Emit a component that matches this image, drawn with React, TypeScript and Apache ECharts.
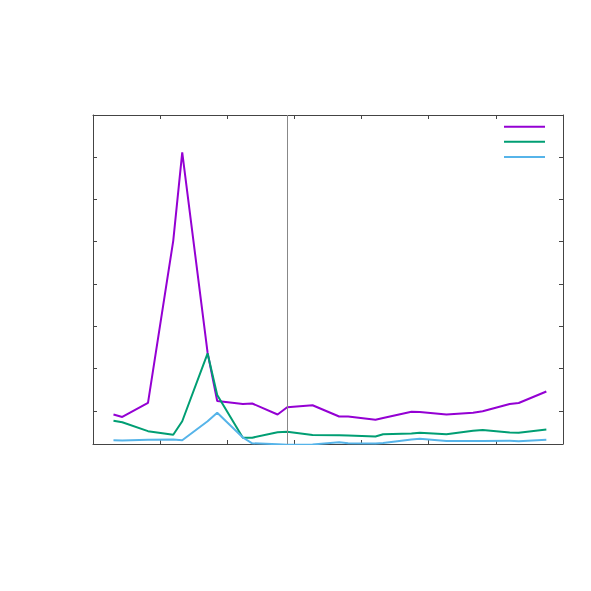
import React, { useEffect, useRef } from "react";
import * as echarts from "echarts";

// x positions (axis units, ticks at 0..7)
const xValues = [
  0.305, 0.436, 0.819, 1.195, 1.329, 1.707, 1.85, 2.232, 2.371, 2.749, 2.892, 3.27,
  3.666, 3.8, 4.207, 4.321, 4.743, 4.867, 5.264, 5.66, 5.804, 6.206, 6.34, 6.752,
];

const purpleValues = [
  0.697, 0.638, 0.969, 4.799, 6.887, 2.151, 1.017, 0.946, 0.957, 0.697, 0.868, 0.915,
  0.65, 0.65, 0.574, 0.615, 0.761, 0.757, 0.697, 0.738, 0.773, 0.946, 0.969, 1.241,
];

const greenValues = [
  0.551, 0.515, 0.303, 0.22, 0.537, 2.139, 1.158, 0.146, 0.149, 0.277, 0.291, 0.213,
  0.206, 0.201, 0.177, 0.232, 0.248, 0.265, 0.229, 0.312, 0.331, 0.272, 0.267, 0.34,
];

const blueValues = [
  0.09, 0.085, 0.099, 0.106, 0.087, 0.537, 0.738, 0.154, 0.017, -0.005, -0.02, -0.01,
  0.04, 0.017, 0.012, 0.024, 0.109, 0.123, 0.071, 0.071, 0.071, 0.076, 0.064, 0.102,
];

const yTickValues = [0.78, 1.78, 2.78, 3.78, 4.78, 5.78, 6.78];
const markerX = 2.892;

const seriesNames = ["a", "b", "c"];
const seriesColors = ["#9400d3", "#009e73", "#56b4e9"];

export default function App() {
  const ref = useRef<HTMLDivElement>(null);

  useEffect(() => {
    if (!ref.current) return;
    const chart = echarts.init(ref.current, undefined, { renderer: "svg" });
    const frameColor = "#444444";
    const xAxisBase = {
      type: "value" as const,
      min: 0,
      max: 7,
      interval: 1,
      axisLine: { show: true, onZero: false, lineStyle: { color: frameColor, width: 1 } },
      axisTick: { show: true, inside: true, length: 4, lineStyle: { color: frameColor } },
      axisLabel: { show: false },
      splitLine: { show: false },
    };
    const yAxisBase = {
      type: "value" as const,
      min: 0,
      max: 7.77,
      axisLine: { show: true, onZero: false, lineStyle: { color: frameColor, width: 1 } },
      axisTick: {
        show: true,
        inside: true,
        length: 4,
        customValues: yTickValues,
        lineStyle: { color: frameColor },
      },
      axisLabel: { show: false },
      splitLine: { show: false },
    };
    const allValues = [purpleValues, greenValues, blueValues];
    const legendTops = [126.7, 141.7, 157];
    chart.setOption({
      animation: false,
      backgroundColor: "#ffffff",
      grid: { left: 93, top: 115, width: 470, height: 329, containLabel: false },
      xAxis: [
        { ...xAxisBase, position: "bottom" },
        { ...xAxisBase, position: "top" },
      ],
      yAxis: [
        { ...yAxisBase, position: "left" },
        { ...yAxisBase, position: "right" },
      ],
      legend: seriesNames.map((n, i) => ({
        data: [n],
        left: 504,
        top: legendTops[i] - 1,
        padding: 0,
        icon: "rect",
        itemWidth: 41,
        itemHeight: 2,
        itemGap: 0,
        selectedMode: false,
        formatter: () => "",
        textStyle: { fontSize: 2, lineHeight: 2 },
      })),
      series: seriesNames.map((n, i) => ({
        name: n,
        type: "line",
        xAxisIndex: 0,
        yAxisIndex: 0,
        showSymbol: false,
        symbol: "none",
        clip: true,
        color: seriesColors[i],
        lineStyle: { color: seriesColors[i], width: 2 },
        data: xValues.map((x, j) => [x, allValues[i][j]]),
        markLine:
          i === 0
            ? {
                silent: true,
                symbol: "none",
                label: { show: false },
                lineStyle: { color: "#888888", width: 1, type: "solid" },
                data: [{ xAxis: markerX }],
              }
            : undefined,
      })),
    });
    return () => chart.dispose();
  }, []);

  return (
    <div
      ref={ref}
      style={{ position: "absolute", left: 0, top: 0, width: 591, height: 591 }}
    />
  );
}
